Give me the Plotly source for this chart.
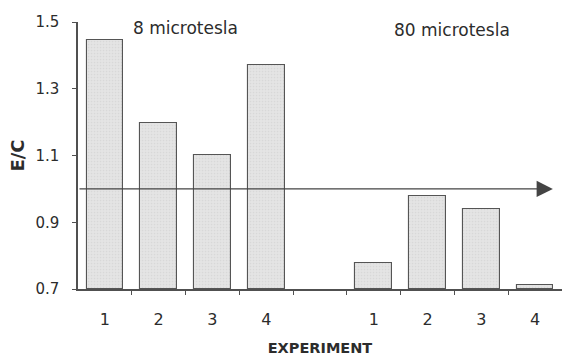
import plotly.graph_objects as go

# Data
group_labels = ["8 microtesla", "80 microtesla"]
experiments = ["1", "2", "3", "4"]
ec_8ut = [1.446, 1.198, 1.101, 1.370]
ec_80ut = [0.778, 0.978, 0.940, 0.711]
y_ticks = [0.7, 0.9, 1.1, 1.3, 1.5]
reference_level = 1.0

# Positions: group 1 in slots 0-3, gap slot 4, group 2 in slots 5-8
x1 = list(range(len(experiments)))
x2 = [i + len(experiments) + 1 for i in range(len(experiments))]
xs = x1 + x2
vals = ec_8ut + ec_80ut
labels = experiments + experiments
boundaries = [i + 0.5 for i in range(len(experiments) * 2)]

XR = [-0.5, 8.5]
YR = [0.7, 1.5]
TXT = "#2c2c2c"
AX = "#505050"
FONT = "DejaVu Sans"

fig = go.Figure()
fig.add_trace(go.Bar(
    x=xs, y=[v - YR[0] for v in vals], base=YR[0],
    width=0.68,
    marker=dict(color="#e4e4e4", line=dict(color="#555555", width=1.1),
                pattern=dict(shape=".", fgcolor="#cccccc", size=3, solidity=0.25)),
    showlegend=False, hoverinfo="skip",
))

fig.update_layout(
    width=562, height=362,
    margin=dict(l=78, r=0, t=22, b=73),
    paper_bgcolor="white", plot_bgcolor="white",
    font=dict(family=FONT, color=TXT, size=15),
    bargap=0,
    xaxis=dict(range=XR, tickmode="array", tickvals=xs, ticktext=labels,
               ticks="", showgrid=False, zeroline=False,
               showline=True, linecolor=AX, linewidth=1.5, mirror=False, layer="above traces",
               ticklabelstandoff=15, tickfont=dict(size=16, color=TXT),
               title=dict(text="<b>EXPERIMENT</b>", font=dict(size=14.5, color=TXT), standoff=15),
               minor=dict(tickmode="array", tickvals=boundaries, ticks="outside",
                          ticklen=4, tickcolor=AX, tickwidth=1, showgrid=False)),
    xaxis2=dict(range=XR, overlaying="x", anchor="y", side="bottom",
                tickmode="array", tickvals=boundaries, ticks="inside", ticklen=3,
                tickcolor=AX, tickwidth=1, showticklabels=False,
                showgrid=False, zeroline=False, showline=False),
    yaxis=dict(range=YR, tickmode="array", tickvals=y_ticks,
               ticktext=[f"{v:.1f}" for v in y_ticks],
               ticks="outside", ticklen=4, tickcolor=AX, tickwidth=1,
               showgrid=False, zeroline=False,
               showline=True, linecolor=AX, linewidth=1.5, mirror=False, layer="above traces",
               ticklabelstandoff=10, tickfont=dict(size=15, color=TXT),
               title=dict(text="<b>E/C</b>", font=dict(size=18, color=TXT), standoff=6)),
    yaxis2=dict(range=YR, overlaying="y", anchor="x", side="left",
                tickmode="array", tickvals=y_ticks, ticks="inside", ticklen=3,
                tickcolor=AX, tickwidth=1, showticklabels=False,
                showgrid=False, zeroline=False, showline=False),
)

# Reference level arrow
fig.add_annotation(
    x=8.33, y=reference_level, ax=XR[0], ay=reference_level,
    xref="x", yref="y", axref="x", ayref="y",
    text="", showarrow=True, arrowhead=2, arrowsize=2.5, arrowwidth=1.3,
    arrowcolor="#444444",
)

# Group labels
fig.add_annotation(x=1.49, y=1.4835, xref="x", yref="y", text=group_labels[0],
                   showarrow=False, font=dict(size=17, color=TXT), xanchor="center", yanchor="middle")
fig.add_annotation(x=6.45, y=1.4775, xref="x", yref="y", text=group_labels[1],
                   showarrow=False, font=dict(size=17, color=TXT), xanchor="center", yanchor="middle")

fig.write_html("out.html", config={"displayModeBar": False},
               post_script="document.body.style.margin='0';")
